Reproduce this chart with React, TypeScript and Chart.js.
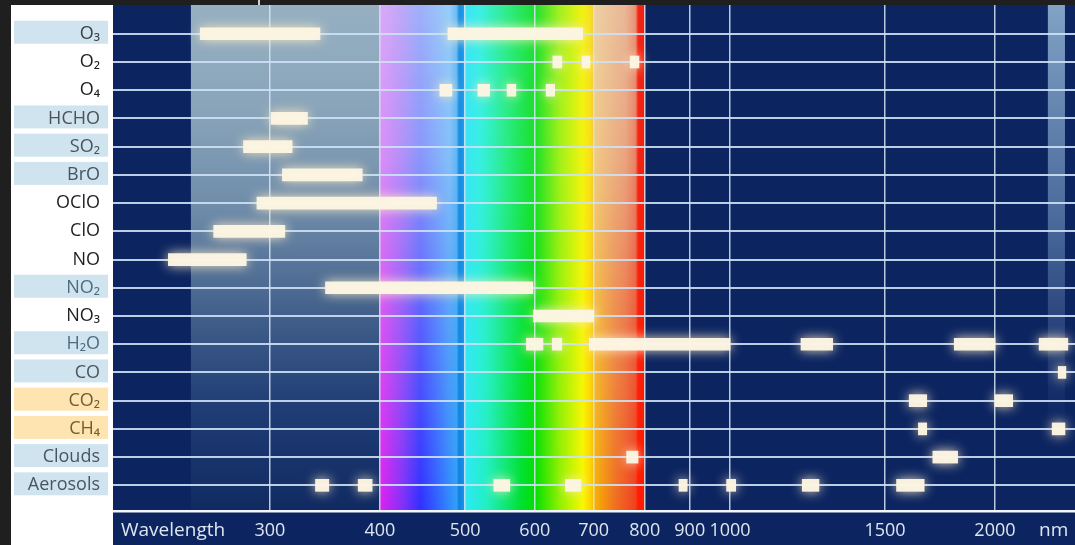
import React, { useEffect, useRef } from 'react';
import { Chart, registerables } from 'chart.js';

Chart.register(...registerables);

// ---------- data ----------
const species = ['O₃', 'O₂', 'O₄', 'HCHO', 'SO₂', 'BrO', 'OClO', 'ClO', 'NO', 'NO₂', 'NO₃', 'H₂O', 'CO', 'CO₂', 'CH₄', 'Clouds', 'Aerosols'];
const boxKinds = ['blue', 'none', 'none', 'blue', 'blue', 'blue', 'none', 'none', 'none', 'blue', 'none', 'blue', 'blue', 'orange', 'orange', 'blue', 'blue'];
const labelColors = ['#3c4044', '#1e1e1e', '#1e1e1e', '#4c5258', '#48545e', '#465460', '#1e1e1e', '#1e1e1e', '#1e1e1e', '#4e6c80', '#1e1e1e', '#4e6c80', '#4e545a', '#745c2e', '#745c2e', '#485660', '#485660'];

// absorption / retrieval bands (nm) per species
const o3Bands = [[250, 342], [478, 680]];
const o2Bands = [[629, 644], [679, 693], [770, 788]];
const o4Bands = [[468, 483], [517, 533], [558, 571], [618, 632]];
const hchoBands = [[301, 331]];
const so2Bands = [[280, 318]];
const broBands = [[310, 382]];
const oclo_Bands = [[290, 464]];
const cloBands = [[259, 312]];
const noBands = [[230, 282]];
const no2Bands = [[347, 597]];
const no3Bands = [[598, 700]];
const h2oBands = [[587, 613], [628, 644], [692, 1000], [1204, 1308], [1798, 2000], [2245, 2420]];
const coBands = [[2360, 2408]];
const co2Bands = [[1598, 1673], [2000, 2095]];
const ch4Bands = [[1637, 1673], [2323, 2402]];
const cloudBands = [[763, 786], [1700, 1814]];
const aerosolBands = [[338, 350], [378, 392], [539, 562], [650, 677], [875, 894], [991, 1015], [1208, 1262], [1546, 1662]];

const bandsBySpecies = [o3Bands, o2Bands, o4Bands, hchoBands, so2Bands, broBands, oclo_Bands, cloBands, noBands, no2Bands, no3Bands, h2oBands, coBands, co2Bands, ch4Bands, cloudBands, aerosolBands];

const xTickValues = [300, 400, 500, 600, 700, 800, 900, 1000, 1500, 2000];
const xMin = 199;
const xMax = 2466;
const uvRange = [244, 400];
const visibleRange = [400, 800];
const irStripe = [2297, 2402];

// spectrum colours (nm, colour) — top (pale) and bottom (saturated)
const spectrumTop: [number, string][] = [
  [400, '#dcaaf8'], [420, '#c4a8f8'], [445, '#a0b0fa'], [480, '#98cef8'], [489, '#70bcf2'], [492, '#1a90e2'], [498, '#1c98e8'], [500, '#40e2f8'],
  [520, '#3cf0e4'], [560, '#30ec84'], [600, '#20e034'], [640, '#a4f020'], [680, '#f2f212'], [694, '#f8e020'], [699, '#f6cc40'], [703, '#eed0a4'],
  [760, '#e8b898'], [781, '#e89478'], [786, '#f02818'], [800, '#f02010'],
];
const spectrumBottom: [number, string][] = [
  [400, '#e020f0'], [425, '#8030f8'], [445, '#3030ff'], [470, '#3070ff'], [489, '#30a0f8'], [492, '#1080e0'], [498, '#1890e8'], [500, '#30e8f8'],
  [530, '#20f0c0'], [580, '#00e030'], [600, '#00e000'], [640, '#90f000'], [680, '#f8f800'], [695, '#ffd000'], [702, '#f8b000'], [740, '#f07020'],
  [781, '#f04020'], [786, '#ff2000'], [800, '#ff1800'],
];

const NAVY = '#0c2561';
const BAR = 'rgba(252,245,226,0.97)';
const FONT = "'Open Sans', 'Noto Sans', sans-serif";

const bandPoints = bandsBySpecies.flatMap((list, row) => list.map(([a, b]) => ({ x: [a, b], y: row })));

// ---------- plugins ----------
const backgroundPlugin = {
  id: 'bgPlugin',
  beforeDraw(chart: any) {
    const { ctx, chartArea: ca } = chart;
    const x = chart.scales.x;
    const y = chart.scales.y;
    const W = chart.width;
    const H = chart.height;
    ctx.save();
    ctx.fillStyle = '#1f1f1f';
    ctx.fillRect(0, 0, W, H);
    ctx.fillStyle = '#ffffff';
    ctx.fillRect(11, ca.top, ca.left - 11, H - ca.top);
    ctx.fillStyle = NAVY;
    ctx.fillRect(ca.left, ca.top, W - ca.left, H - ca.top);
    ctx.fillStyle = '#d0d0d0';
    ctx.fillRect(258, 0, 2, ca.top);

    // UV region
    const u0 = x.getPixelForValue(uvRange[0]);
    const u1 = x.getPixelForValue(uvRange[1]);
    const ug = ctx.createLinearGradient(0, ca.top, 0, ca.bottom);
    ug.addColorStop(0, '#96b0c2');
    ug.addColorStop(0.2, '#8aa5ba');
    ug.addColorStop(0.4, '#6f8caa');
    ug.addColorStop(0.6, '#44628c');
    ug.addColorStop(0.8, '#1f3c74');
    ug.addColorStop(1, '#112a62');
    ctx.fillStyle = ug;
    ctx.fillRect(u0, ca.top, u1 - u0, ca.bottom - ca.top);

    // visible spectrum
    const s0 = x.getPixelForValue(visibleRange[0]);
    const s1 = x.getPixelForValue(visibleRange[1]);
    const w = Math.max(1, Math.round(s1 - s0));
    const h = Math.max(1, Math.round(ca.bottom - ca.top));
    const frac = (nm: number) => Math.min(1, Math.max(0, (x.getPixelForValue(nm) - s0) / (s1 - s0)));
    const bg = ctx.createLinearGradient(s0, 0, s1, 0);
    spectrumBottom.forEach(([nm, c]) => bg.addColorStop(frac(nm), c));
    ctx.fillStyle = bg;
    ctx.fillRect(s0, ca.top, s1 - s0, ca.bottom - ca.top);
    const off = document.createElement('canvas');
    off.width = w;
    off.height = h;
    const o = off.getContext('2d')!;
    const tg = o.createLinearGradient(0, 0, w, 0);
    spectrumTop.forEach(([nm, c]) => tg.addColorStop(frac(nm), c));
    o.fillStyle = tg;
    o.fillRect(0, 0, w, h);
    o.globalCompositeOperation = 'destination-in';
    const vg = o.createLinearGradient(0, 0, 0, h);
    vg.addColorStop(0, 'rgba(0,0,0,1)');
    vg.addColorStop(0.3, 'rgba(0,0,0,0.8)');
    vg.addColorStop(0.65, 'rgba(0,0,0,0.35)');
    vg.addColorStop(1, 'rgba(0,0,0,0)');
    o.fillStyle = vg;
    o.fillRect(0, 0, w, h);
    ctx.drawImage(off, s0, ca.top, s1 - s0, ca.bottom - ca.top);

    // IR stripe
    const r0 = x.getPixelForValue(irStripe[0]);
    const r1 = x.getPixelForValue(irStripe[1]);
    const rg = ctx.createLinearGradient(0, ca.top, 0, ca.top + 420);
    rg.addColorStop(0, 'rgba(150,185,215,0.85)');
    rg.addColorStop(0.5, 'rgba(130,165,205,0.55)');
    rg.addColorStop(1, 'rgba(120,150,200,0)');
    ctx.fillStyle = rg;
    ctx.fillRect(r0, ca.top, r1 - r0, 420);

    // label boxes
    species.forEach((_, i) => {
      const kind = boxKinds[i];
      if (kind === 'none') return;
      const py = y.getPixelForValue(i);
      ctx.fillStyle = kind === 'blue' ? '#d0e4f0' : '#fde4b0';
      ctx.fillRect(14, py - 13, 94, 23);
    });
    ctx.restore();
  },
};

const glowPlugin = {
  id: 'glowPlugin',
  beforeDatasetsDraw(chart: any) {
    const c = chart.ctx;
    c.save();
    c.shadowColor = 'rgba(255,236,196,0.95)';
    c.shadowBlur = 12;
  },
  afterDatasetsDraw(chart: any) {
    chart.ctx.restore();
  },
};

const axisTextPlugin = {
  id: 'axisTextPlugin',
  afterDraw(chart: any) {
    const { ctx, chartArea: ca } = chart;
    ctx.save();
    ctx.fillStyle = '#dfe6ef';
    ctx.font = `19px ${FONT}`;
    ctx.textBaseline = 'middle';
    ctx.textAlign = 'left';
    const ty = ca.bottom + 20;
    ctx.fillText('Wavelength', ca.left + 8, ty);
    ctx.fillText('nm', 1039, ty);
    ctx.restore();
  },
};

export default function App() {
  const ref = useRef<HTMLCanvasElement | null>(null);
  useEffect(() => {
    if (!ref.current) return;
    const chart = new Chart(ref.current, {
      type: 'bar',
      data: {
        datasets: [
          {
            data: bandPoints as any,
            backgroundColor: BAR,
            borderWidth: 0,
            barThickness: 12,
          } as any,
        ],
      },
      options: {
        animation: false,
        responsive: false,
        devicePixelRatio: 1,
        indexAxis: 'y',
        layout: { padding: { top: 5, left: 0, right: 0, bottom: 0 } },
        plugins: { legend: { display: false }, tooltip: { enabled: false } },
        scales: {
          x: {
            type: 'logarithmic',
            min: xMin,
            max: xMax,
            position: 'bottom',
            afterBuildTicks: (s: any) => {
              s.ticks = xTickValues.map((v) => ({ value: v }));
            },
            afterFit: (s: any) => {
              s.height = 34;
              s.paddingLeft = 0;
              s.paddingRight = 0;
            },
            grid: { color: 'rgba(215,230,245,0.85)', lineWidth: 1.5, drawTicks: false },
            border: { display: true, color: '#f2f6fb', width: 2.5 },
            ticks: {
              color: '#dfe6ef',
              font: { family: FONT, size: 18 },
              padding: 9,
              maxRotation: 0,
              minRotation: 0,
              autoSkip: false,
              callback: (v: any) => String(v),
            },
          } as any,
          y: {
            type: 'linear',
            reverse: true,
            min: -1.02,
            max: 16.91,
            offset: false,
            afterBuildTicks: (s: any) => {
              s.ticks = species.map((_, i) => ({ value: i }));
            },
            afterFit: (s: any) => {
              s.width = 113;
              s.paddingTop = 0;
              s.paddingBottom = 0;
            },
            grid: { color: 'rgba(205,225,245,0.9)', lineWidth: 2, drawTicks: false, offset: false },
            border: { display: false },
            ticks: {
              padding: 13,
              autoSkip: false,
              color: (c: any) => labelColors[c.index] || '#1e1e1e',
              font: { family: FONT, size: 18 },
              callback: (v: any) => species[v] ?? '',
            },
          } as any,
        },
      },
      plugins: [backgroundPlugin, glowPlugin, axisTextPlugin],
    });
    return () => chart.destroy();
  }, []);

  return (
    <div style={{ position: 'absolute', left: 0, top: 0, width: 1075, height: 545 }}>
      <canvas ref={ref} width={1075} height={545} style={{ display: 'block' }} />
    </div>
  );
}
